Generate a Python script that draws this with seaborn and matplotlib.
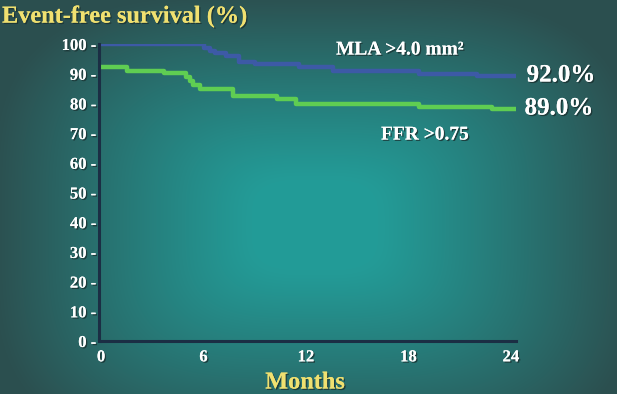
import numpy as np
import pandas as pd
import matplotlib
matplotlib.use("Agg")
import matplotlib.pyplot as plt
import matplotlib.patheffects as pe
import seaborn as sns

# ========== Data ==========
mla_months = [0, 6.0, 6.4, 6.7, 7.3, 8.1, 9.0, 11.6, 13.6, 18.6, 22.0, 24.3]
mla_surv = [100, 98.6, 97.6, 97.0, 96.0, 94.0, 93.3, 92.4, 91.0, 89.9, 89.2, 89.2]

ffr_months = [0, 1.5, 3.7, 5.0, 5.2, 5.4, 5.8, 7.7, 10.3, 11.4, 18.6, 22.9, 24.3]
ffr_surv = [92.4, 91.0, 90.1, 89.0, 87.5, 86.2, 84.8, 82.6, 81.5, 79.8, 78.9, 78.0, 78.0]

x_ticks = [0, 6, 12, 18, 24]
y_ticks = [0, 10, 20, 30, 40, 50, 60, 70, 80, 90, 100]

df = pd.concat([
    pd.DataFrame({'month': mla_months, 'surv': mla_surv, 'group': 'MLA'}),
    pd.DataFrame({'month': ffr_months, 'surv': ffr_surv, 'group': 'FFR'}),
])

# ========== Figure with gradient background ==========
sns.set_style('white')
plt.rcParams['font.family'] = ['Liberation Serif', 'DejaVu Serif']

fig = plt.figure(figsize=(6.17, 3.94), dpi=100)
bg = fig.add_axes([0, 0, 1, 1], zorder=0)
bg.axis('off')
h, w = 394, 617
yy, xx = np.mgrid[0:h, 0:w]
dx = (xx - 315) / 320.0
dy = (yy - 225) / 230.0
d = (np.abs(dx) ** 3.5 + np.abs(dy) ** 3.5) ** (1 / 3.5)
t = np.clip((d - 0.2) / 0.8, 0, 1) ** 1.1
center = np.array([35, 155, 151]) / 255
edge = np.array([44, 80, 80]) / 255
img = center[None, None, :] * (1 - t[..., None]) + edge[None, None, :] * t[..., None]
bg.imshow(img, aspect='auto', extent=[0, 1, 0, 1])

ax = fig.add_axes([99 / 617, 53 / 394, 417 / 617, 297 / 394], zorder=1)
ax.set_facecolor('none')

sns.lineplot(data=df, x='month', y='surv', hue='group',
             palette={'MLA': '#3d5aa6', 'FFR': '#5fcd52'},
             drawstyle='steps-post', estimator=None, sort=False,
             linewidth=3.2, legend=False, ax=ax)

ax.set_xlim(-0.12, 24.3)
ax.set_ylim(0, 100)

# axes styling
for s in ['top', 'right']:
    ax.spines[s].set_visible(False)
for s in ['left', 'bottom']:
    ax.spines[s].set_color('#1b2e44')
    ax.spines[s].set_linewidth(2.2)

shadow = [pe.withSimplePatchShadow(offset=(1, -1), shadow_rgbFace='#1a3030', alpha=0.8), pe.Normal()]

ax.set_xticks(x_ticks)
ax.set_xticklabels([str(v) for v in x_ticks])
ax.set_yticks(y_ticks)
ax.set_yticklabels([f'{v} -' for v in y_ticks])
ax.tick_params(axis='y', length=0, pad=2, labelsize=12, labelcolor='white')
ax.tick_params(axis='x', length=0, pad=6, labelsize=12, labelcolor='white')
for lbl in ax.get_xticklabels() + ax.get_yticklabels():
    lbl.set_fontweight('bold')
    lbl.set_path_effects(shadow)

ax.set_xlabel('')
ax.set_ylabel('')

# titles
fig.text(2 / 617, 1 - 17 / 394, 'Event-free survival (%)', color='#f0e070',
         fontsize=17.5, fontweight='bold', ha='left', va='center', path_effects=shadow)
fig.text(305 / 617, 1 - 383 / 394, 'Months', color='#f0e070',
         fontsize=17.5, fontweight='bold', ha='center', va='center', path_effects=shadow)

# annotations
fig.text(336 / 617, 1 - 50 / 394, 'MLA >4.0 mm²', color='white', fontsize=14,
         fontweight='bold', ha='left', va='center', path_effects=shadow)
fig.text(425 / 617, 1 - 135 / 394, 'FFR >0.75', color='white', fontsize=14,
         fontweight='bold', ha='center', va='center', path_effects=shadow)
fig.text(561 / 617, 1 - 75 / 394, '92.0%', color='white', fontsize=18,
         fontweight='bold', ha='center', va='center', path_effects=shadow)
fig.text(559 / 617, 1 - 108 / 394, '89.0%', color='white', fontsize=18,
         fontweight='bold', ha='center', va='center', path_effects=shadow)

fig.savefig('out.png', dpi=100)
